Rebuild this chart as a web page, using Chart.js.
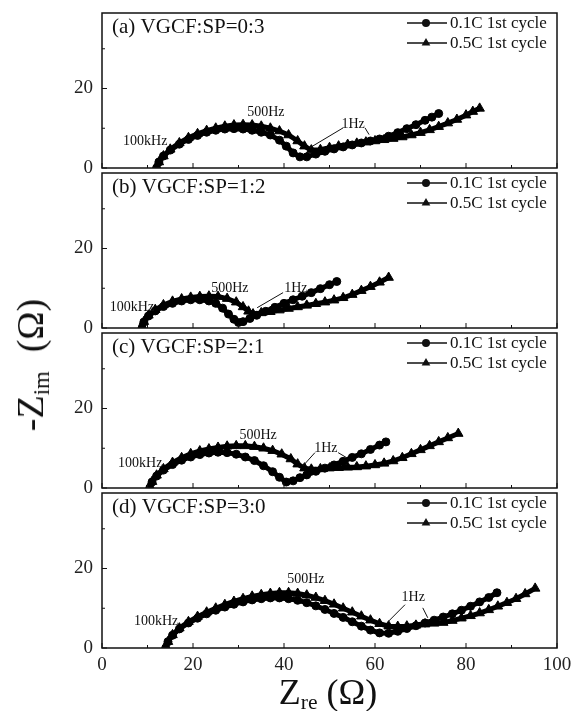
<!DOCTYPE html>
<html>
<head>
<meta charset="utf-8">
<script src="https://cdn.jsdelivr.net/npm/chart.js@4.4.0/dist/chart.umd.min.js"></script>
<style>
  html, body { margin: 0; padding: 0; background: #fff; }
  #wrap { position: relative; width: 572px; height: 711px; overflow: hidden; }
  #wrap canvas { position: absolute; left: 0; }
  .title { position: absolute; font-family: "Liberation Serif", serif; color: #111; white-space: nowrap; line-height: 1; }
  .title .sub { font-size: 0.6em; position: relative; top: 0.25em; }
  #ytitle { font-size: 38px; left: 30px; top: 365px; transform: translate(-50%, -50%) rotate(-90deg); }
  #xtitle { font-size: 36px; left: 328px; top: 674px; transform: translateX(-50%); }
</style>
</head>
<body>
<div id="wrap">
  <canvas id="p0"></canvas>
  <canvas id="p1"></canvas>
  <canvas id="p2"></canvas>
  <canvas id="p3"></canvas>
  <div class="title" id="ytitle">-Z<span class="sub">im</span>&nbsp;&nbsp;(Ω)</div>
  <div class="title" id="xtitle">Z<span class="sub">re</span>&nbsp;(Ω)</div>
</div>
<script>
// axis ticks
const xMajorTicks = [0, 20, 40, 60, 80, 100];
const xMinorTicks = [10, 30, 50, 70, 90];
const yMajorTicks = [0, 20];
const yMinorTicks = [10, 30];

const panelTitles = ["(a) VGCF:SP=0:3", "(b) VGCF:SP=1:2", "(c) VGCF:SP=2:1", "(d) VGCF:SP=3:0"];
const seriesLabels = ["0.1C 1st cycle", "0.5C 1st cycle"];
const freqNames = ["100kHz", "500Hz", "1Hz"];

// [Zre, -Zim] pairs
const a01C = [[12,0],[12.5,1.5],[13.5,3],[15,4.5],[17,6],[19,7.2],[21,8.2],[23,9],[25,9.5],[27,9.8],[29,9.9],[31,9.8],[33,9.5],[35,9],[37,8.3],[39,7],[40.5,5.5],[42,3.8],[43.5,2.8],[45,2.8],[47,3.5],[49,4.2],[51,4.8],[53,5.3],[55,5.8],[57,6.3],[59,6.8],[61,7.3],[63,8],[65,8.9],[67,9.9],[69,10.9],[71,12],[72.5,12.8],[74,13.7]];
const a05C = [[12,0],[12.5,1.5],[13.5,3],[15,4.7],[17,6.3],[19,7.6],[21,8.6],[23,9.4],[25,10],[27,10.5],[29,10.8],[31,10.9],[33,10.8],[35,10.5],[37,10],[39,9.3],[41,8.3],[43,6.8],[44.5,5.5],[46,4.5],[48,4.6],[50,5.1],[52,5.5],[54,5.9],[56,6.2],[58,6.5],[60,6.8],[62,7.1],[64,7.4],[66,7.8],[68,8.3],[70,8.9],[72,9.6],[74,10.4],[76,11.3],[78,12.2],[80,13.3],[81.5,14.2],[83,15]];

const b01C = [[8.8,0],[9.2,1.5],[10.2,3],[11.7,4.3],[13.5,5.4],[15.5,6.2],[17.5,6.8],[19.5,7.1],[21.5,7.1],[23.5,6.8],[25,6.2],[26.5,5],[27.8,3.5],[29,2.2],[30,1.4],[31,1.6],[32.5,2.4],[34,3.2],[36,4.2],[38,5.2],[40,6.2],[42,7.1],[44,8],[46,8.9],[48,9.9],[50,10.9],[51.6,11.7]];
const b05C = [[8.8,0],[9.2,1.6],[10.2,3.2],[11.7,4.6],[13.5,5.8],[15.5,6.7],[17.5,7.3],[19.5,7.7],[21.5,7.9],[23.5,8],[25.5,7.9],[27.5,7.4],[29.5,6.5],[31,5.3],[32.2,4.2],[33.2,3.5],[35,3.8],[37,4.1],[39,4.5],[41,4.9],[43,5.3],[45,5.7],[47,6.1],[49,6.5],[51,7],[53,7.6],[55,8.4],[57,9.4],[59,10.4],[61,11.5],[63,12.7]];

const c01C = [[10.5,0],[11,1.5],[12,3],[13.5,4.5],[15.5,5.9],[17.5,7],[19.5,7.8],[21.5,8.4],[23.5,8.8],[25.5,9],[27.5,8.9],[29.5,8.5],[31.5,7.8],[33.5,6.9],[35.5,5.6],[37.5,4.1],[39,2.7],[40.5,1.5],[42,1.8],[43.5,2.6],[45,3.3],[47,4.2],[49,5],[51,5.8],[53,6.7],[55,7.7],[57,8.6],[59,9.7],[61,10.8],[62.4,11.6]];
const c05C = [[10.5,0],[11,1.6],[12,3.2],[13.5,4.8],[15.5,6.4],[17.5,7.6],[19.5,8.6],[21.5,9.3],[23.5,9.8],[25.5,10.2],[27.5,10.5],[29.5,10.6],[31.5,10.6],[33.5,10.4],[35.5,10],[37.5,9.4],[39.5,8.5],[41.5,7.3],[43,6],[44.5,5],[46,4.7],[48,4.8],[50,5],[52,5.1],[54,5.2],[56,5.3],[58,5.5],[60,5.8],[62,6.2],[64,6.8],[66,7.6],[68,8.6],[70,9.6],[72,10.6],[74,11.6],[76,12.6],[78.3,13.7]];

const d01C = [[14,0],[14.5,1.6],[15.5,3.2],[17,4.8],[19,6.3],[21,7.5],[23,8.6],[25,9.5],[27,10.3],[29,11],[31,11.6],[33,12.1],[35,12.4],[37,12.6],[39,12.6],[41,12.4],[43,12],[45,11.4],[47,10.6],[49,9.7],[51,8.7],[53,7.7],[55,6.6],[57,5.5],[59,4.5],[61,3.8],[63,3.7],[65,4.2],[67,4.9],[69,5.6],[71,6.3],[73,7],[75,7.8],[77,8.6],[79,9.5],[81,10.5],[83,11.6],[85,12.7],[86.8,13.9]];
const d05C = [[14,0],[14.5,1.6],[15.5,3.3],[17,5],[19,6.6],[21,7.9],[23,9],[25,10],[27,10.9],[29,11.7],[31,12.4],[33,13],[35,13.4],[37,13.7],[39,13.9],[41,13.9],[43,13.7],[45,13.3],[47,12.7],[49,11.9],[51,11],[53,10],[55,9],[57,8],[59,7],[61,6.1],[63,5.5],[65,5.4],[67,5.5],[69,5.7],[71,6],[73,6.2],[75,6.4],[77,6.9],[79,7.5],[81,8.1],[83,8.8],[85,9.6],[87,10.5],[89,11.4],[91,12.4],[93,13.6],[95.2,15]];

const panelSeries = [[a01C, a05C], [b01C, b05C], [c01C, c05C], [d01C, d05C]];

// where the frequency notes sit, in data units
const freqSpots = [
  [[9.5, 6.6], [36, 13.9], [55.2, 11.1]],
  [[6.6, 5.3], [28.1, 9.9], [42.6, 10.1]],
  [[8.4, 6.1], [34.3, 13.2], [49.2, 10.1]],
  [[11.9, 6.6], [44.8, 17.2], [68.4, 12.7]]
];
const leaders = [
  [[[53, 10.1], [45.7, 5.1]], [[57.8, 10.1], [58.7, 8.4]]],
  [[[39.8, 8.9], [34.1, 5.1]]],
  [[[46.8, 8.9], [44.2, 5.6]], [[51.9, 8.9], [53.8, 7.6]]],
  [[[66.6, 10.9], [62.6, 6.3]], [[70.5, 10.1], [71.6, 7.6]]]
];

const panelTops = [13, 173, 333, 493];
const serif = '"Liberation Serif", "Times New Roman", serif';

function drawMarker(ctx, style, cx, cy, r) {
  ctx.beginPath();
  if (style === "circle") {
    ctx.arc(cx, cy, r, 0, Math.PI * 2);
  } else {
    // same shape as chart.js triangle
    ctx.moveTo(cx, cy - r);
    ctx.lineTo(cx + r * Math.sin(Math.PI * 2 / 3), cy - r * Math.cos(Math.PI * 2 / 3));
    ctx.lineTo(cx - r * Math.sin(Math.PI * 2 / 3), cy - r * Math.cos(Math.PI * 2 / 3));
    ctx.closePath();
  }
  ctx.fill();
}

const panelDeco = {
  id: "panelDeco",
  afterDraw(chart, args, opts) {
    const i = opts.index;
    const { ctx, chartArea: a } = chart;
    const x = chart.scales.x, y = chart.scales.y;
    ctx.save();
    ctx.strokeStyle = "#111";
    ctx.fillStyle = "#111";
    ctx.lineWidth = 1.5;
    ctx.strokeRect(a.left, a.top, a.right - a.left, a.bottom - a.top);

    // ticks point inward
    ctx.lineWidth = 1;
    ctx.beginPath();
    xMajorTicks.forEach(v => { const px = x.getPixelForValue(v); ctx.moveTo(px, a.bottom); ctx.lineTo(px, a.bottom - 5); });
    xMinorTicks.forEach(v => { const px = x.getPixelForValue(v); ctx.moveTo(px, a.bottom); ctx.lineTo(px, a.bottom - 3); });
    yMajorTicks.forEach(v => { const py = y.getPixelForValue(v); ctx.moveTo(a.left, py); ctx.lineTo(a.left + 5, py); });
    yMinorTicks.forEach(v => { const py = y.getPixelForValue(v); ctx.moveTo(a.left, py); ctx.lineTo(a.left + 3, py); });
    ctx.stroke();

    // panel title
    ctx.font = "21px " + serif;
    ctx.textAlign = "left";
    ctx.textBaseline = "middle";
    ctx.fillText(panelTitles[i], a.left + 10, a.top + 14);

    // legend
    ctx.font = "17px " + serif;
    seriesLabels.forEach((lab, k) => {
      const ly = a.top + 10 + k * 20;
      ctx.lineWidth = 1.5;
      ctx.beginPath();
      ctx.moveTo(a.right - 150, ly);
      ctx.lineTo(a.right - 110, ly);
      ctx.stroke();
      drawMarker(ctx, k === 0 ? "circle" : "triangle", a.right - 131, ly, k === 0 ? 4 : 5);
      ctx.fillText(lab, a.right - 107, ly + 1);
    });

    // frequency notes
    ctx.font = "14px " + serif;
    ctx.textAlign = "center";
    freqSpots[i].forEach((p, k) => {
      ctx.fillText(freqNames[k], x.getPixelForValue(p[0]), y.getPixelForValue(p[1]));
    });
    ctx.lineWidth = 1;
    leaders[i].forEach(seg => {
      ctx.beginPath();
      ctx.moveTo(x.getPixelForValue(seg[0][0]), y.getPixelForValue(seg[0][1]));
      ctx.lineTo(x.getPixelForValue(seg[1][0]), y.getPixelForValue(seg[1][1]));
      ctx.stroke();
    });
    ctx.restore();
  }
};

panelSeries.forEach((series, i) => {
  const last = i === 3;
  const pad = 12;
  const axisH = last ? 40 : 0;
  const canvas = document.getElementById("p" + i);
  canvas.width = 572;
  canvas.height = 155 + pad + (last ? axisH : pad);
  canvas.style.top = (panelTops[i] - pad) + "px";

  new Chart(canvas.getContext("2d"), {
    type: "scatter",
    data: {
      datasets: [
        {
          label: seriesLabels[0],
          data: series[0].map(p => ({ x: p[0], y: p[1] })),
          showLine: true,
          borderColor: "#000",
          backgroundColor: "#000",
          borderWidth: 5,
          pointStyle: "circle",
          pointRadius: 4,
          pointBorderWidth: 1
        },
        {
          label: seriesLabels[1],
          data: series[1].map(p => ({ x: p[0], y: p[1] })),
          showLine: true,
          borderColor: "#000",
          backgroundColor: "#000",
          borderWidth: 5,
          pointStyle: "triangle",
          pointRadius: 5.5,
          pointBorderWidth: 1
        }
      ]
    },
    options: {
      responsive: false,
      animation: false,
      events: [],
      layout: { padding: { left: 0, right: 15, top: pad, bottom: last ? 0 : pad } },
      scales: {
        x: {
          type: "linear",
          min: 0,
          max: 100,
          grid: { display: false, drawTicks: false },
          border: { display: false },
          afterBuildTicks: s => { s.ticks = xMajorTicks.map(v => ({ value: v })); },
          afterFit: s => { s.height = axisH; s.paddingLeft = 0; s.paddingRight = 0; },
          ticks: { display: last, padding: 6, color: "#222", font: { family: serif, size: 19 } }
        },
        y: {
          type: "linear",
          min: 0,
          max: 39,
          grid: { display: false, drawTicks: false },
          border: { display: false },
          afterBuildTicks: s => { s.ticks = yMajorTicks.map(v => ({ value: v })); },
          afterFit: s => { s.width = 102; s.paddingTop = 0; s.paddingBottom = 0; },
          ticks: { padding: 9, color: "#222", font: { family: serif, size: 19 } }
        }
      },
      plugins: {
        legend: { display: false },
        tooltip: { enabled: false },
        panelDeco: { index: i }
      }
    },
    plugins: [panelDeco]
  });
});
</script>
</body>
</html>
